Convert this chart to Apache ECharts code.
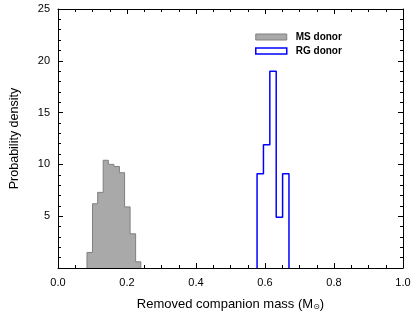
<!DOCTYPE html>
<html>
<head>
<meta charset="utf-8">
<script src="https://cdn.jsdelivr.net/npm/echarts@6/dist/echarts.min.js"></script>
<style>
html,body{margin:0;padding:0;background:#fff;}
#chart{width:415px;height:313px;}
</style>
</head>
<body>
<div id="chart"></div>
<script>
// Histogram bin edges (solar masses) and probability densities
var msEdges = [0.084, 0.100, 0.115, 0.131, 0.146, 0.162, 0.178, 0.193, 0.209, 0.225, 0.240];
var msDensity = [1.5, 6.2, 7.3, 10.4, 10.0, 9.8, 9.2, 5.9, 3.3, 0.6];
var rgEdges = [0.577, 0.5955, 0.614, 0.6325, 0.651, 0.6695];
var rgDensity = [9.1, 11.9, 19.0, 4.9, 9.1];
var seriesNames = ['MS donor', 'RG donor'];
var xTicks = [0.0, 0.2, 0.4, 0.6, 0.8, 1.0];
var yTicks = [5, 10, 15, 20, 25];

function stepOutline(edges, heights) {
  var pts = [[edges[0], 0]];
  for (var i = 0; i < heights.length; i++) {
    pts.push([edges[i], heights[i]]);
    pts.push([edges[i + 1], heights[i]]);
  }
  pts.push([edges[edges.length - 1], 0]);
  return pts;
}

var font = 'Liberation Sans';
var chart = echarts.init(document.getElementById('chart'), null, {renderer: 'canvas'});
var axisCommon = {
  axisLine: {show: true, onZero: false, lineStyle: {color: '#000', width: 1}},
  splitLine: {show: false}
};
chart.setOption({
  animation: false,
  backgroundColor: '#fff',
  grid: {left: 58, right: 12, top: 9, bottom: 45, containLabel: false, outerBoundsMode: 'none'},
  legend: {
    orient: 'vertical',
    left: 250,
    top: 27,
    itemWidth: 31,
    itemHeight: 6,
    itemGap: 4,
    icon: 'rect',
    textStyle: {fontFamily: font, fontWeight: 'bold', fontSize: 10, color: '#000', padding: [0, 0, 0, 4]},
    data: [
      {name: seriesNames[0], itemStyle: {color: '#a9a9a9', borderColor: '#7f7f7f', borderWidth: 1}},
      {name: seriesNames[1], itemStyle: {color: '#fff', borderColor: '#0000ff', borderWidth: 1.5}}
    ]
  },
  xAxis: [
    Object.assign({
      type: 'value', min: 0, max: 1, interval: 0.2, position: 'bottom',
      axisTick: {show: true, inside: true, length: 5, lineStyle: {color: '#000'}},
      minorTick: {show: true, splitNumber: 4, length: 3, lineStyle: {color: '#000'}},
      axisLabel: {fontFamily: font, fontSize: 11, color: '#000', margin: 9,
        formatter: function (v) { return v.toFixed(1); }},
      name: 'Removed companion mass (M{sub|⊙})',
      nameLocation: 'middle', nameGap: 29,
      nameTextStyle: {fontFamily: font, fontSize: 13, color: '#000',
        rich: {sub: {fontSize: 8, verticalAlign: 'bottom', padding: [6, 0, 0, 0], fontFamily: 'DejaVu Sans'}}}
    }, axisCommon),
    Object.assign({
      type: 'value', min: 0, max: 1, interval: 0.2, position: 'top',
      axisTick: {show: true, inside: true, length: 5, lineStyle: {color: '#000'}},
      minorTick: {show: true, splitNumber: 4, length: 3, lineStyle: {color: '#000'}},
      axisLabel: {show: false}
    }, axisCommon)
  ],
  yAxis: [
    Object.assign({
      type: 'value', min: 0, max: 25, interval: 5, position: 'left',
      axisTick: {show: true, inside: true, length: 5, lineStyle: {color: '#000'}},
      minorTick: {show: true, splitNumber: 5, length: 3, lineStyle: {color: '#000'}},
      axisLabel: {fontFamily: font, fontSize: 11, color: '#000', margin: 8, showMinLabel: false,
        formatter: function (v) { return yTicks.indexOf(v) >= 0 ? String(v) : ''; }},
      name: 'Probability density',
      nameLocation: 'middle', nameGap: 37,
      nameTextStyle: {fontFamily: font, fontSize: 12.5, color: '#000'}
    }, axisCommon),
    Object.assign({
      type: 'value', min: 0, max: 25, interval: 5, position: 'right',
      axisTick: {show: true, inside: true, length: 5, lineStyle: {color: '#000'}},
      minorTick: {show: true, splitNumber: 5, length: 3, lineStyle: {color: '#000'}},
      axisLabel: {show: false}
    }, axisCommon)
  ],
  series: [
    {
      name: seriesNames[0], type: 'line', xAxisIndex: 0, yAxisIndex: 0,
      data: stepOutline(msEdges, msDensity),
      symbol: 'none', showSymbol: false,
      lineStyle: {color: '#7f7f7f', width: 1},
      itemStyle: {color: '#a9a9a9', borderColor: '#7f7f7f'},
      areaStyle: {color: '#a9a9a9', opacity: 1},
      z: 1
    },
    {
      name: seriesNames[1], type: 'line', xAxisIndex: 0, yAxisIndex: 0,
      data: stepOutline(rgEdges, rgDensity),
      symbol: 'none', showSymbol: false,
      lineStyle: {color: '#0000ff', width: 1.5},
      itemStyle: {color: '#fff', borderColor: '#0000ff'},
      z: 2
    }
  ]
});
</script>
</body>
</html>
